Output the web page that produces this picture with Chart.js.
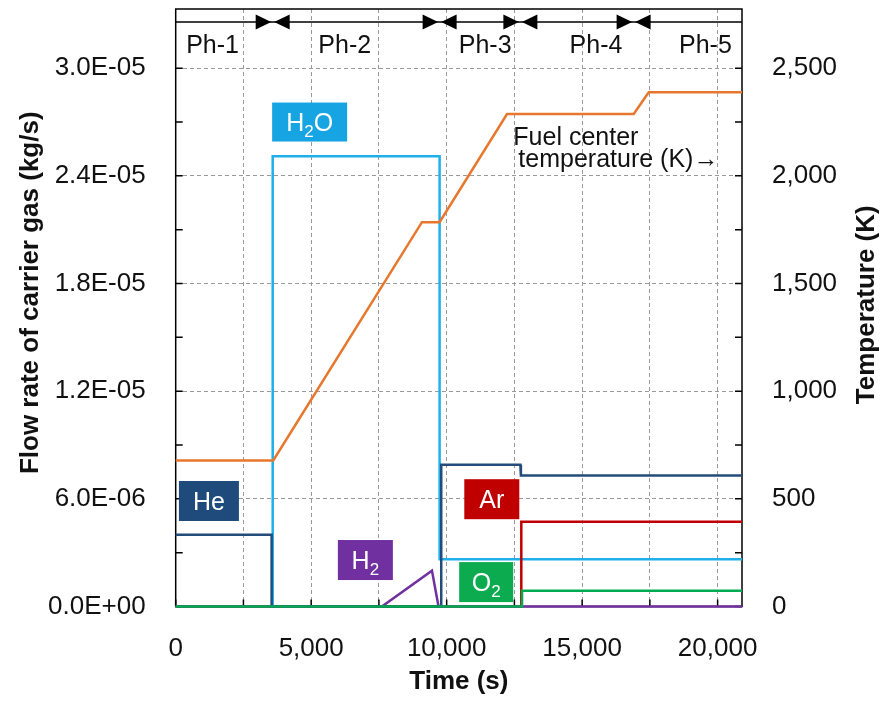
<!DOCTYPE html>
<html>
<head>
<meta charset="utf-8">
<script src="https://cdn.jsdelivr.net/npm/chart.js@4.4.0/dist/chart.umd.min.js"></script>
<style>
html, body { margin: 0; padding: 0; background: #fff; }
</style>
</head>
<body>
<canvas id="chart" width="890" height="702"></canvas>
<script>
// time axis (s)
const xTickValues = [0, 2500, 5000, 7500, 10000, 12500, 15000, 17500, 20000];
const xTickLabels = ['0', '', '5,000', '', '10,000', '', '15,000', '', '20,000'];
const xMax = 20900;

// left axis: flow rate (kg/s)
const flowTickValues = [0, 3e-6, 6e-6, 9e-6, 1.2e-5, 1.5e-5, 1.8e-5, 2.1e-5, 2.4e-5, 2.7e-5, 3.0e-5];
const flowTickLabels = ['0.0E+00', '', '6.0E-06', '', '1.2E-05', '', '1.8E-05', '', '2.4E-05', '', '3.0E-05'];
const flowMax = 3.33e-5;

// right axis: temperature (K)
const tempTickValues = [0, 250, 500, 750, 1000, 1250, 1500, 1750, 2000, 2250, 2500];
const tempTickLabels = ['0', '', '500', '', '1,000', '', '1,500', '', '2,000', '', '2,500'];
const tempMax = 2775;

// gas flow series
const heTime = [0, 3540, 3540, 9800, 9800, 12720, 12740, 20900];
const heFlow = [4.0e-6, 4.0e-6, 0, 0, 7.9e-6, 7.9e-6, 7.3e-6, 7.3e-6];

const h2oTime = [0, 3580, 3580, 9740, 9740, 20900];
const h2oFlow = [0, 0, 2.51e-5, 2.51e-5, 2.63e-6, 2.63e-6];

const h2Time = [0, 7610, 9457, 9700, 20900];
const h2Flow = [0, 0, 2.0e-6, 0, 0];

const arTime = [0, 12755, 12755, 20900];
const arFlow = [0, 0, 4.72e-6, 4.72e-6];

const o2Time = [0, 12782, 12782, 20900];
const o2Flow = [0, 0, 8.8e-7, 8.8e-7];

// fuel center temperature
const tempTime = [0, 3600, 9088, 9738, 12228, 16904, 17458, 20900];
const tempValue = [678, 678, 1785, 1785, 2287, 2287, 2388, 2388];

// phases
const phaseBounds = [3580, 9740, 12720, 16900];
const phaseNames = ['Ph-1', 'Ph-2', 'Ph-3', 'Ph-4', 'Ph-5'];
const phaseLabelTime = [1360, 6240, 11420, 15510, 19550];
const phaseArrowTemp = 2715;
const phaseLabelTemp = 2604;

// gas name boxes
const gasNames = ['H2O', 'He', 'H2', 'Ar', 'O2'];
const gasLabelTime = [4943, 1226, 7000, 11666, 11459];
const gasLabelFlow = [2.70e-5, 5.88e-6, 2.59e-6, 5.98e-6, 1.36e-6];

// fuel temperature note
const noteLines = ['Fuel center', 'temperature (K)\u2192'];
const noteTime = [12460, 12645];
const noteTemp = [2145, 2043];

const FONT = '"Liberation Sans", Arial, sans-serif';
const colors = {
    He: '#234B7B', H2O: '#1FB0EC', H2: '#7030A0', Ar: '#C00000', O2: '#00AC4F', temp: '#E8772E'
};
const boxColors = { H2O: '#17A4E2', He: '#1F4A7C', H2: '#7030A0', Ar: '#C00000', O2: '#0DAB4F' };
const boxSizes = { H2O: [75, 39], He: [60, 40], H2: [55, 40], Ar: [55, 40], O2: [54, 40] };

function toPoints(xs, ys) {
    return xs.map((x, i) => ({ x: x, y: ys[i] }));
}

function lineSet(label, xs, ys, color, axis, order) {
    return {
        label: label,
        data: toPoints(xs, ys),
        borderColor: color,
        borderWidth: 2.5,
        pointRadius: 0,
        fill: false,
        tension: 0,
        yAxisID: axis,
        order: order,
        clip: false
    };
}

function drawChem(ctx, text, cx, cy, size) {
    const parts = text.match(/[A-Za-z]+|\d+/g);
    const sub = Math.round(size * 0.68);
    let w = 0;
    parts.forEach(p => {
        ctx.font = (/\d/.test(p) ? sub : size) + 'px ' + FONT;
        w += ctx.measureText(p).width;
    });
    let x = cx - w / 2;
    const base = cy + size * 0.36;
    ctx.textAlign = 'left';
    ctx.textBaseline = 'alphabetic';
    parts.forEach(p => {
        const isSub = /\d/.test(p);
        ctx.font = (isSub ? sub : size) + 'px ' + FONT;
        ctx.fillText(p, x, isSub ? base + size * 0.24 : base);
        x += ctx.measureText(p).width;
    });
}

function drawVerticalTitle(ctx, text, x, y) {
    ctx.save();
    ctx.translate(x, y);
    ctx.rotate(-Math.PI / 2);
    ctx.font = 'bold 26px ' + FONT;
    ctx.fillStyle = '#111';
    ctx.textAlign = 'center';
    ctx.textBaseline = 'middle';
    ctx.fillText(text, 0, 0);
    ctx.restore();
}

const decorPlugin = {
    id: 'decor',
    beforeDatasetsDraw(chart) {
        const ctx = chart.ctx;
        const area = chart.chartArea;
        const xs = chart.scales.x, ys = chart.scales.y, ts = chart.scales.y2;
        ctx.save();
        // frame
        ctx.strokeStyle = '#000';
        ctx.lineWidth = 1.5;
        ctx.strokeRect(area.left, area.top, area.right - area.left, area.bottom - area.top);

        // inward tick marks
        const tl = 7;
        ctx.beginPath();
        flowTickValues.forEach(v => {
            const p = ys.getPixelForValue(v);
            ctx.moveTo(area.left, p); ctx.lineTo(area.left + tl, p);
        });
        tempTickValues.forEach(v => {
            const p = ts.getPixelForValue(v);
            ctx.moveTo(area.right, p); ctx.lineTo(area.right - tl, p);
        });
        xTickValues.forEach(v => {
            const p = xs.getPixelForValue(v);
            ctx.moveTo(p, area.bottom); ctx.lineTo(p, area.bottom - tl);
        });
        ctx.stroke();

        // axis titles
        drawVerticalTitle(ctx, 'Flow rate of carrier gas (kg/s)', ys.left + 31, (area.top + area.bottom) / 2 - 15);
        drawVerticalTitle(ctx, 'Temperature (K)', ts.right - 23, (area.top + area.bottom) / 2 - 3);
        ctx.restore();
    },
    afterDatasetsDraw(chart) {
        const ctx = chart.ctx;
        const area = chart.chartArea;
        const xs = chart.scales.x, ys = chart.scales.y, ts = chart.scales.y2;
        ctx.save();

        // gas boxes
        gasNames.forEach((g, i) => {
            const cx = xs.getPixelForValue(gasLabelTime[i]);
            const cy = ys.getPixelForValue(gasLabelFlow[i]);
            const [w, h] = boxSizes[g];
            ctx.fillStyle = boxColors[g];
            ctx.fillRect(cx - w / 2, cy - h / 2, w, h);
            ctx.fillStyle = '#fff';
            drawChem(ctx, g, cx, cy, 25);
        });

        // fuel temperature note
        ctx.fillStyle = '#111';
        ctx.font = '25px ' + FONT;
        ctx.textAlign = 'left';
        ctx.textBaseline = 'alphabetic';
        noteLines.forEach((t, i) => {
            ctx.fillText(t, xs.getPixelForValue(noteTime[i]), ts.getPixelForValue(noteTemp[i]));
        });

        // phase arrows
        const ay = ts.getPixelForValue(phaseArrowTemp);
        ctx.strokeStyle = '#000';
        ctx.lineWidth = 1.5;
        ctx.beginPath();
        ctx.moveTo(area.left, ay);
        ctx.lineTo(area.right, ay);
        ctx.stroke();
        ctx.fillStyle = '#000';
        phaseBounds.forEach(b => {
            const bx = xs.getPixelForValue(b);
            [-1, 1].forEach(d => {
                ctx.beginPath();
                ctx.moveTo(bx + d * 1.5, ay);
                ctx.lineTo(bx + d * 17, ay - 7.5);
                ctx.lineTo(bx + d * 17, ay + 7.5);
                ctx.closePath();
                ctx.fill();
            });
        });
        ctx.font = '25px ' + FONT;
        ctx.textAlign = 'center';
        ctx.textBaseline = 'middle';
        ctx.fillStyle = '#111';
        phaseNames.forEach((p, i) => {
            ctx.fillText(p, xs.getPixelForValue(phaseLabelTime[i]), ts.getPixelForValue(phaseLabelTemp));
        });

        ctx.restore();
    }
};

window.onload = function() {
    const ctx = document.getElementById('chart').getContext('2d');
    new Chart(ctx, {
        type: 'line',
        data: {
            datasets: [
                lineSet('O2', o2Time, o2Flow, colors.O2, 'y', 0),
                lineSet('H2', h2Time, h2Flow, colors.H2, 'y', 1),
                lineSet('Fuel center temperature', tempTime, tempValue, colors.temp, 'y2', 2),
                lineSet('He', heTime, heFlow, colors.He, 'y', 3),
                lineSet('Ar', arTime, arFlow, colors.Ar, 'y', 4),
                lineSet('H2O', h2oTime, h2oFlow, colors.H2O, 'y', 5)
            ]
        },
        options: {
            responsive: false,
            animation: false,
            layout: { padding: { top: 9, left: 0, right: 0, bottom: 0 } },
            plugins: {
                legend: { display: false },
                tooltip: { enabled: false }
            },
            scales: {
                x: {
                    type: 'linear',
                    min: 0,
                    max: xMax,
                    afterBuildTicks: s => { s.ticks = xTickValues.map(v => ({ value: v })); },
                    afterFit: s => { s.height = 95.5; s.paddingLeft = 0; s.paddingRight = 0; },
                    ticks: {
                        autoSkip: false,
                        maxRotation: 0,
                        padding: 27,
                        color: '#111',
                        font: { family: FONT, size: 26 },
                        callback: (v, i) => xTickLabels[i]
                    },
                    grid: {
                        drawTicks: false,
                        color: c => (c.tick && c.tick.value > 0) ? '#9a9a9a' : 'rgba(0,0,0,0)',
                        lineWidth: 1
                    },
                    border: { display: false, dash: [4, 3] },
                    title: {
                        display: true,
                        text: 'Time (s)',
                        color: '#111',
                        font: { family: FONT, size: 26, weight: 'bold' },
                        padding: { top: 0, bottom: 5 }
                    }
                },
                y: {
                    type: 'linear',
                    position: 'left',
                    min: 0,
                    max: flowMax,
                    afterBuildTicks: s => { s.ticks = flowTickValues.map(v => ({ value: v })); },
                    afterFit: s => { s.width = 175.7; s.paddingTop = 0; s.paddingBottom = 0; },
                    ticks: {
                        autoSkip: false,
                        padding: 30,
                        color: '#111',
                        font: { family: FONT, size: 26 },
                        callback: (v, i) => flowTickLabels[i]
                    },
                    grid: {
                        drawTicks: false,
                        color: c => (c.index > 0 && flowTickLabels[c.index]) ? '#9a9a9a' : 'rgba(0,0,0,0)',
                        lineWidth: 1
                    },
                    border: { display: false, dash: [4, 3] },
                    title: { display: false }
                },
                y2: {
                    type: 'linear',
                    position: 'right',
                    min: 0,
                    max: tempMax,
                    afterBuildTicks: s => { s.ticks = tempTickValues.map(v => ({ value: v })); },
                    afterFit: s => { s.width = 148; s.paddingTop = 0; s.paddingBottom = 0; },
                    ticks: {
                        autoSkip: false,
                        padding: 30,
                        color: '#111',
                        font: { family: FONT, size: 26 },
                        callback: (v, i) => tempTickLabels[i]
                    },
                    grid: { display: false, drawTicks: false },
                    border: { display: false },
                    title: { display: false }
                }
            }
        },
        plugins: [decorPlugin]
    });
};
</script>
</body>
</html>
